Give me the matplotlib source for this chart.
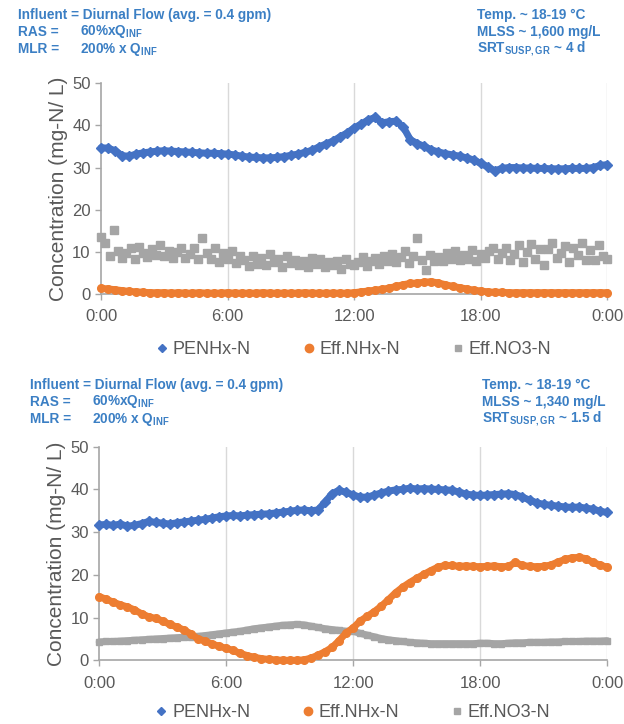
import numpy as np
import matplotlib
matplotlib.use("Agg")
import matplotlib.pyplot as plt
from matplotlib.lines import Line2D

plt.rcParams['font.family'] = ['Liberation Sans', 'DejaVu Sans']
plt.rcParams['mathtext.fontset'] = 'custom'
plt.rcParams['mathtext.rm'] = 'Liberation Sans:bold'
plt.rcParams['mathtext.default'] = 'rm'

# time axes (hours of the day)
t20 = np.arange(73) / 3.0      # every 20 min
t12 = np.arange(121) / 5.0     # every 12 min

xticks = [0, 6, 12, 18, 24]
xticklabels = ["0:00", "6:00", "12:00", "18:00", "0:00"]
series_names = ["PENHx-N", "Eff.NHx-N", "Eff.NO3-N"]

# ---- top chart (SRT ~ 4 d) ----
top_pe_nhx = [34.7, 34.6, 34.0, 32.8, 32.7, 33.2, 33.5, 33.7, 33.9, 34.0,
              33.9, 33.8, 33.7, 33.6, 33.5, 33.4, 33.4, 33.3, 33.2, 33.0,
              32.7, 32.5, 32.4, 32.3, 32.3, 32.4, 32.6, 32.9, 33.2, 33.6,
              34.1, 34.9, 35.6, 36.3, 37.3, 38.2, 39.4, 40.3, 41.3, 41.9,
              40.6, 40.9, 41.0, 39.6, 36.6, 35.7, 35.0, 34.2, 33.7, 33.3,
              33.0, 32.7, 32.3, 31.8, 31.0, 30.2, 29.2, 29.8, 30.0, 30.0,
              29.9, 29.9, 29.8, 29.8, 29.7, 29.7, 29.7, 29.8, 29.8, 29.8,
              30.0, 30.5, 30.7]
top_eff_nhx = [1.3, 1.2, 1.0, 0.8, 0.6, 0.5, 0.4, 0.3, 0.3, 0.3,
               0.2, 0.3, 0.2, 0.2, 0.3, 0.2, 0.2, 0.2, 0.3, 0.2,
               0.2, 0.2, 0.2, 0.3, 0.2, 0.2, 0.2, 0.2, 0.2, 0.3,
               0.2, 0.2, 0.2, 0.2, 0.2, 0.2, 0.3, 0.5, 0.7, 0.9,
               1.1, 1.4, 1.8, 2.2, 2.5, 2.6, 2.8, 2.9, 2.6, 2.2,
               1.8, 1.5, 1.2, 0.9, 0.7, 0.5, 0.4, 0.4, 0.3, 0.3,
               0.3, 0.3, 0.3, 0.3, 0.3, 0.3, 0.3, 0.3, 0.3, 0.3,
               0.3, 0.3, 0.3]
top_eff_no3 = [13.6, 12.2, 9.0, 15.2, 10.3, 8.6,
               9.8, 10.9, 8.4, 11.2, 9.6,
               8.7, 10.6, 9.3, 11.7, 8.9,
               10.1, 8.5, 9.9, 10.8, 8.6,
               9.4, 11.0, 8.3, 13.2, 9.7,
               8.4, 10.9, 7.6, 9.8, 8.2,
               10.2, 7.4, 9.1, 8.0, 6.6,
               8.9, 7.2, 8.6, 6.9, 9.4,
               7.6, 8.3, 6.5, 9.0, 7.3,
               8.1, 6.8, 7.7, 6.4, 8.5,
               7.0, 8.2, 6.3, 7.5, 6.9,
               7.9, 5.9, 8.4, 7.1, 6.8,
               7.6, 8.8, 6.7, 7.9, 8.5,
               7.2, 8.9, 7.8, 9.4, 7.5,
               8.7, 10.3, 7.4, 8.9, 13.3,
               8.1, 5.6, 9.2, 7.7, 8.8,
               7.9, 9.6, 8.3, 10.1, 8.0,
               9.2, 8.4, 10.4, 7.9, 9.5,
               8.6, 10.2, 11.0, 8.3, 9.7,
               10.8, 8.1, 9.4, 11.5, 7.6,
               9.9, 11.9, 8.2, 10.6, 6.8,
               10.7, 12.2, 8.6, 9.8, 11.4,
               7.5, 10.9, 9.3, 12.0, 8.1,
               10.4, 8.0, 11.6, 9.1, 8.2]

# ---- bottom chart (SRT ~ 1.5 d) ----
bot_pe_nhx = [31.7, 31.8, 31.6, 31.9, 31.4, 31.6, 32.0, 32.5, 32.3, 32.1,
              31.9, 32.2, 32.4, 32.6, 32.8, 33.0, 33.3, 33.6, 33.8, 33.9,
              33.8, 34.0, 34.1, 34.2, 34.3, 34.5, 34.7, 34.9, 35.1, 35.2,
              35.0, 35.2, 37.0, 39.0, 39.8, 39.3, 38.7, 38.2, 38.2, 38.7,
              39.2, 39.6, 39.9, 40.0, 40.3, 40.1, 40.2, 40.1, 40.0, 39.9,
              39.8, 39.4, 38.9, 38.7, 38.6, 38.7, 38.8, 38.9, 39.0, 38.8,
              38.2, 37.5, 36.9, 36.5, 36.3, 36.1, 35.9, 35.8, 35.9, 35.6,
              35.4, 34.9, 34.6]
bot_eff_nhx = [14.9, 14.3, 13.6, 13.0, 12.5, 11.8, 10.9, 10.2, 9.8, 9.2,
               8.4, 7.8, 7.1, 6.2, 5.0, 4.5, 3.8, 3.3, 2.8, 2.3,
               1.6, 1.1, 0.7, 0.4, 0.2, 0.1, 0.0, 0.0, 0.0, 0.1,
               0.5, 1.2, 2.0, 3.0, 4.6, 6.4, 7.6, 9.2, 10.3, 11.4,
               12.7, 14.2, 15.8, 17.1, 18.2, 19.2, 20.1, 21.0, 21.8, 22.2,
               22.2, 22.0, 22.1, 22.0, 21.9, 22.0, 22.1, 21.9, 22.0, 22.9,
               22.2, 22.0, 21.9, 22.0, 22.3, 23.0, 23.6, 24.0, 24.1, 23.8,
               22.9, 22.3, 21.8]
bot_eff_no3 = [4.3, 4.4, 4.4, 4.5, 4.6, 4.7, 4.8, 4.9, 5.0, 5.1,
               5.2, 5.3, 5.4, 5.5, 5.6, 5.8, 6.0, 6.2, 6.4, 6.6,
               6.8, 7.1, 7.4, 7.6, 7.8, 8.0, 8.2, 8.3, 8.4, 8.3,
               8.0, 7.7, 7.4, 7.2, 7.0, 6.8, 6.8, 6.3, 5.9, 5.5,
               5.1, 4.8, 4.6, 4.4, 4.2, 4.1, 4.0, 3.9, 3.9, 3.9,
               3.9, 3.9, 3.9, 3.9, 4.0, 4.0, 3.9, 3.9, 4.0, 4.1,
               4.1, 4.2, 4.2, 4.2, 4.3, 4.3, 4.4, 4.4, 4.4, 4.5,
               4.5, 4.5, 4.6]

blue = "#4472c4"
orange = "#ed7d31"
gray = "#a5a5a5"
txt = "#595959"
note = "#3b7fc4"

fig = plt.figure(figsize=(6.24, 7.24), dpi=100)
ax1 = fig.add_axes([0.162, 0.594, 0.811, 0.291])
ax2 = fig.add_axes([0.159, 0.088, 0.814, 0.295])


def style(ax):
    ax.set_xlim(0, 24)
    ax.set_ylim(0, 50)
    ax.set_xticks(xticks)
    ax.set_xticklabels(xticklabels)
    ax.set_yticks([0, 10, 20, 30, 40, 50])
    for x in xticks[1:]:
        ax.axvline(x, color="#d9d9d9", lw=1, zorder=0)
    for s in ["top", "right"]:
        ax.spines[s].set_visible(False)
    for s in ["left", "bottom"]:
        ax.spines[s].set_color("#a6a6a6")
        ax.spines[s].set_linewidth(1.2)
    ax.tick_params(colors="#a6a6a6", labelcolor=txt, labelsize=12,
                   length=4, width=1)
    ax.tick_params(axis="x", pad=7)
    ax.set_ylabel("Concentration (mg-N/ L)", color=txt, fontsize=15,
                  labelpad=3)


def line(ax, t, y, c, m, ms):
    ax.plot(t, y, color=c, lw=5, solid_capstyle="round", zorder=3,
            clip_on=False)
    ax.plot(t, y, ls="none", marker=m, ms=ms, color=c, zorder=3,
            clip_on=False)


style(ax1)
ax1.plot(t12, top_eff_no3, ls="none", marker="s", ms=5.5, color=gray,
         zorder=3, clip_on=False)
line(ax1, t20, top_eff_nhx, orange, "o", 5.5)
line(ax1, t20, top_pe_nhx, blue, "D", 5)

style(ax2)
line(ax2, t20, bot_eff_no3, gray, "s", 5)
line(ax2, t20, bot_eff_nhx, orange, "o", 5.5)
line(ax2, t20, bot_pe_nhx, blue, "D", 5)

handles = [
    Line2D([], [], ls="none", marker="D", ms=4.5, color=blue),
    Line2D([], [], ls="none", marker="o", ms=6, color=orange),
    Line2D([], [], ls="none", marker="s", ms=5, color=gray),
]
for ax, yl in [(ax1, -0.265), (ax2, -0.245)]:
    leg = ax.legend(handles, series_names, loc="center",
                    bbox_to_anchor=(0.5, yl), ncol=3, frameon=False,
                    fontsize=13, handlelength=0.6, handletextpad=0.3,
                    columnspacing=2.9)
    for tx in leg.get_texts():
        tx.set_color(txt)

kw = dict(color=note, fontsize=9.8, fontweight="bold", va="center")


def notes(x0, xv, xr, y0, mlss, srt):
    W, H = 624.0, 724.0
    rows = [y0, y0 + 17, y0 + 34]
    fig.text(x0 / W, 1 - rows[0] / H,
             "Influent = Diurnal Flow (avg. = 0.4 gpm)", **kw)
    fig.text(x0 / W, 1 - rows[1] / H, "RAS =", **kw)
    fig.text(xv / W, 1 - rows[1] / H, r"60%xQ$_{INF}$", **kw)
    fig.text(x0 / W, 1 - rows[2] / H, "MLR =", **kw)
    fig.text(xv / W, 1 - rows[2] / H, r"200% x Q$_{INF}$", **kw)
    fig.text(xr / W, 1 - rows[0] / H, "Temp. ~ 18-19 \u00b0C", **kw)
    fig.text(xr / W, 1 - rows[1] / H, "MLSS ~ " + mlss + " mg/L", **kw)
    fig.text(xr / W, 1 - rows[2] / H,
             r"SRT$_{SUSP,GR}$ ~ " + srt + " d", **kw)


notes(18, 80, 477, 15, "1,600", "4")
notes(30, 92, 482, 385, "1,340", "1.5")

fig.savefig("out.png", dpi=100)
